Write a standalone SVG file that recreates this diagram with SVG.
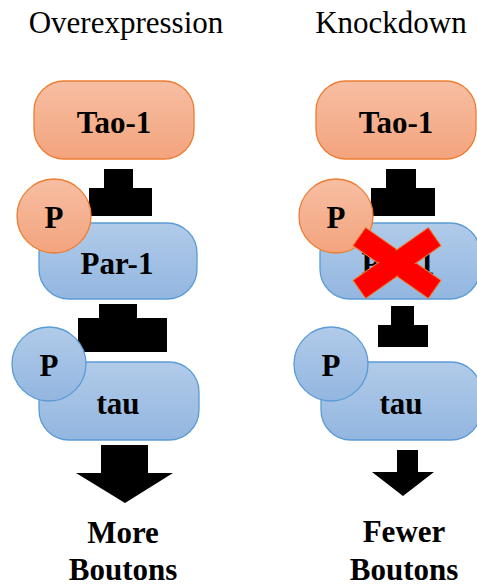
<svg xmlns="http://www.w3.org/2000/svg" width="477" height="586" viewBox="0 0 477 586">
<defs>
<linearGradient id="gO" x1="0" y1="0" x2="0" y2="1"><stop offset="0" stop-color="#F7BEA3"/><stop offset="1" stop-color="#F3A47D"/></linearGradient>
<linearGradient id="gB" x1="0" y1="0" x2="0" y2="1"><stop offset="0" stop-color="#B1CBE9"/><stop offset="1" stop-color="#93B6E0"/></linearGradient>
<style>
.o{fill:url(#gO);stroke:#ED7D31;stroke-width:1.3}
.b{fill:url(#gB);stroke:#5B9BD5;stroke-width:1.3}
text{font-family:"Liberation Serif","DejaVu Serif","Noto Serif","Tinos","Times New Roman","FreeSerif",serif}
.t{font-weight:bold;font-size:31px;text-anchor:middle;fill:#000}
.h{font-size:31px;text-anchor:middle;fill:#000}
.a{fill:#000}
.x{fill:#FF0000;stroke:#ED7D31;stroke-width:1}
</style>
</defs>
<text class="h" x="126" y="33">Overexpression</text>
<text class="h" x="391" y="33">Knockdown</text>
<g id="connectors">
<polygon class="a" points="104,169 133,169 133,188 152,188 152,216 89,216 89,188 104,188"/>
<polygon class="a" points="386,169 416,169 416,188 435,188 435,216 371,216 371,188 386,188"/>
<polygon class="a" points="99,304 137,304 137,318 167,318 167,352 78,352 78,318 99,318"/>
<polygon class="a" points="391,306 414,306 414,325 428,325 428,347 378,347 378,325 391,325"/>
<polygon class="a" points="101,445 148,445 148,473 173,473 125,503 76,473 101,473"/>
<polygon class="a" points="397,450 418,450 418,472 434,472 403,496 372,472 397,472"/>
</g>
<g id="tao1-left"><rect class="o" x="34" y="81" width="160" height="78" rx="30"/><text class="t" x="114" y="133">Tao-1</text></g>
<g id="tao1-right"><rect class="o" x="316" y="81" width="160" height="78" rx="30"/><text class="t" x="396" y="133">Tao-1</text></g>
<g id="par1-left"><rect class="b" x="39" y="223" width="158" height="76" rx="30"/><text class="t" x="117" y="274">Par-1</text></g>
<g id="par1-right"><rect class="b" x="320" y="223" width="160" height="76" rx="30"/><text class="t" x="398" y="274">Par-1</text></g>
<g id="tau-left"><rect class="b" x="39" y="362" width="160" height="78" rx="30"/><text class="t" x="118" y="414">tau</text></g>
<g id="tau-right"><rect class="b" x="321" y="362" width="160" height="78" rx="30"/><text class="t" x="401" y="414">tau</text></g>
<g id="p-orange-left"><circle class="o" cx="54" cy="216" r="37"/><text class="t" x="54" y="228">P</text></g>
<g id="p-orange-right"><circle class="o" cx="336" cy="216" r="37"/><text class="t" x="336" y="228">P</text></g>
<g id="p-blue-left"><circle class="b" cx="49" cy="364" r="37"/><text class="t" x="49" y="376">P</text></g>
<g id="p-blue-right"><circle class="b" cx="331" cy="364" r="37"/><text class="t" x="331" y="376">P</text></g>
<g id="knockout-x">
<rect class="x" x="351" y="252" width="92" height="22" transform="rotate(35 397 263)"/>
<rect class="x" x="351" y="252" width="92" height="22" transform="rotate(-35 397 263)"/>
<rect x="352" y="253.5" width="90" height="19" fill="#FF0000" transform="rotate(35 397 263)"/>
</g>
<g id="outcome-left"><text class="t" x="123" y="543">More</text><text class="t" x="123" y="580">Boutons</text></g>
<g id="outcome-right"><text class="t" x="404" y="542">Fewer</text><text class="t" x="404" y="580">Boutons</text></g>
</svg>
